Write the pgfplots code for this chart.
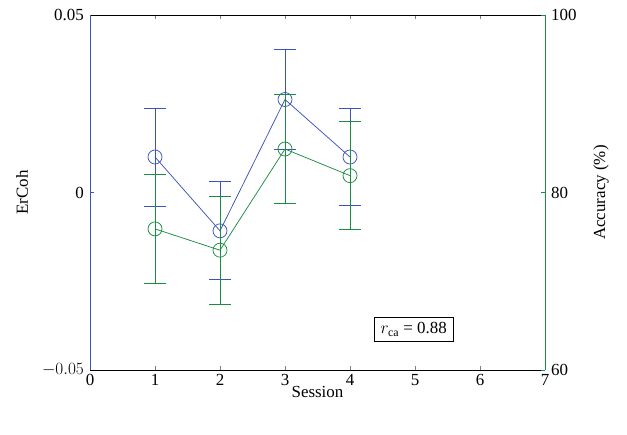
\documentclass[border=0pt]{standalone}
\usepackage{pgfplots}
\pgfplotsset{compat=1.18}
\usepackage{fontspec}
\setmainfont{Liberation Serif}

\definecolor{ercoh}{RGB}{60,84,185}
\definecolor{acc}{RGB}{28,140,68}

\pgfplotsset{
  common/.style={
    width=455bp, height=355bp, scale only axis,
    xmin=0, xmax=7,
    tick align=inside,
    major tick length=4bp,
    scaled y ticks=false,
    /pgf/number format/assume math mode=true,
    tick label style={font=\fontsize{17}{20}\selectfont},
    yticklabel style={inner xsep=6bp},
    xticklabel style={inner ysep=4bp},
    label style={font=\fontsize{17}{20}\selectfont},
  },
}

\begin{document}
\begin{tikzpicture}
\begin{axis}[common, name=ax,
    axis x line*=box, axis y line*=left,
    y axis line style={color=ercoh},
    ytick style={color=ercoh},
    xtick={0,...,7},
    ymin=-0.05, ymax=0.05,
    ytick={-0.05,0,0.05},
    yticklabels={$-0.05$,0,0.05},
    xlabel={Session}, ylabel={ErCoh},
    xlabel style={at={(axis description cs:0.5,-0.062)}, anchor=center},
    ylabel style={at={(axis description cs:-0.149,0.5)}, anchor=center},
  ]
  \addplot[color=ercoh, line width=0.75pt, mark=o, mark size=7bp,
    error bars/.cd, y dir=both, y explicit,
    error bar style={draw=ercoh, line width=0.6pt},
    error mark options={rotate=90, mark size=11bp, line width=0.8pt, draw=ercoh}]
    coordinates {
      (1,0.0100) +- (0,0.0138)
      (2,-0.0108) +- (0,0.0138)
      (3,0.0262) +- (0,0.0140)
      (4,0.0100) +- (0,0.0137)
    };
  \node[draw=black, fill=white, line width=0.6pt, inner xsep=6bp, inner ysep=5bp,
        font=\fontsize{17}{20}\selectfont]
    at (axis cs:4.98,-0.0385) {$r_{\mathrm{ca}}$ = 0.88};
\end{axis}
\begin{axis}[common,
    axis x line=none, axis y line*=right,
    y axis line style={color=acc},
    ytick style={color=acc},
    ymin=60, ymax=100,
    ytick={60,80,100},
    ylabel={Accuracy (\%)},
    ylabel style={at={(axis description cs:1.123,0.5)}, anchor=center},
  ]
  \addplot[color=acc, line width=0.75pt, mark=o, mark size=7bp,
    error bars/.cd, y dir=both, y explicit,
    error bar style={draw=acc, line width=0.6pt},
    error mark options={rotate=90, mark size=11bp, line width=0.8pt, draw=acc}]
    coordinates {
      (1,75.9) +- (0,6.1)
      (2,73.5) +- (0,6.1)
      (3,84.9) +- (0,6.1)
      (4,81.9) +- (0,6.1)
    };
\end{axis}
\path ([shift={(-90bp,-64bp)}]ax.south west) ([shift={(82bp,15bp)}]ax.north east);
\end{tikzpicture}
\end{document}
